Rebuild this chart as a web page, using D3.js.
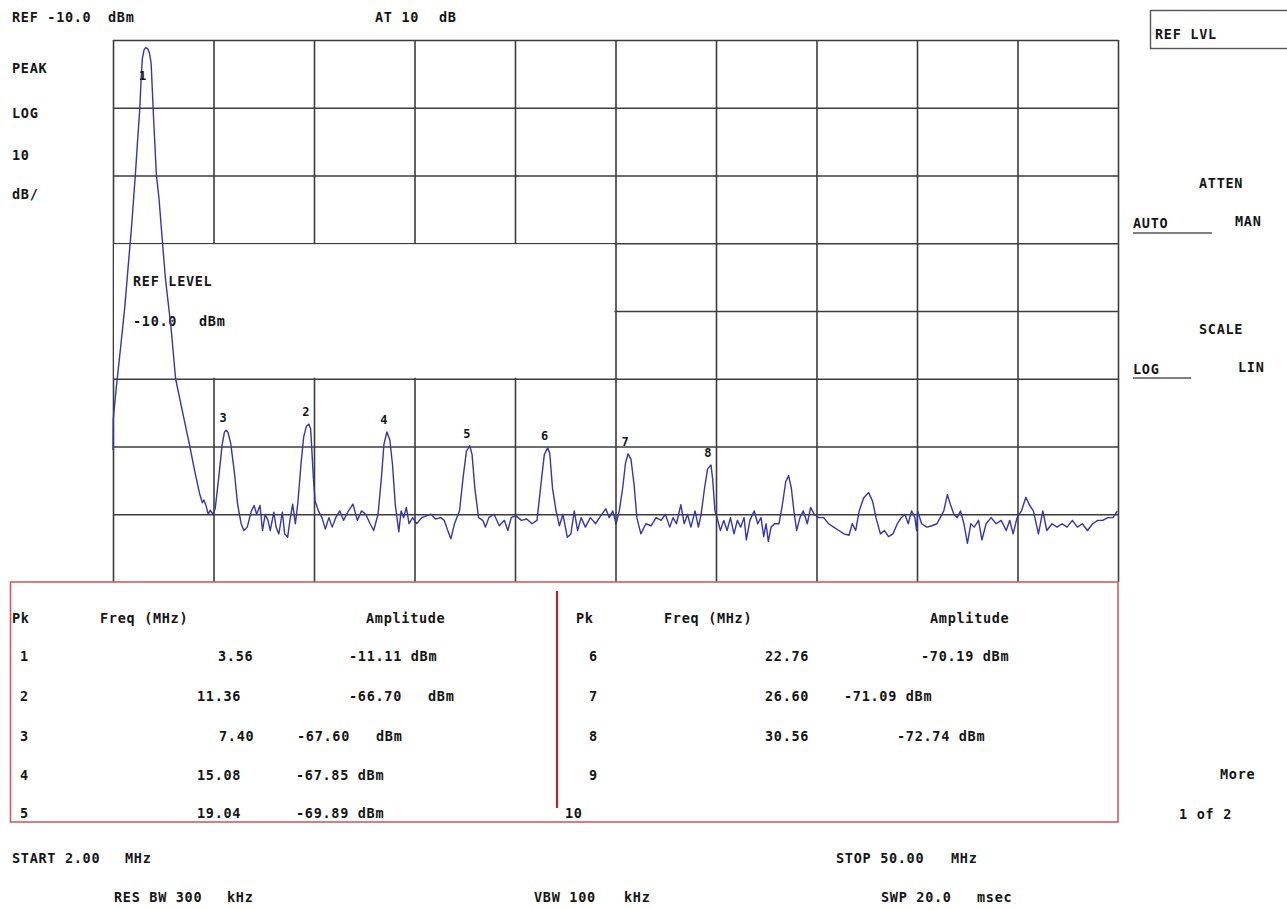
<!DOCTYPE html>
<html>
<head>
<meta charset="utf-8">
<script src="https://cdn.jsdelivr.net/npm/d3@7"></script>
<style>
  html, body { margin: 0; padding: 0; background: #ffffff; }
  svg { display: block; }
  text { font-family: 'DejaVu Sans Mono', 'Liberation Mono', monospace; font-weight: bold; font-size: 13.5px; fill: #151515; letter-spacing: 0.7px; }
</style>
</head>
<body>
<svg id="chart" width="1287" height="910"></svg>
<script>
// ---------------- DATA ----------------
const startFreq = 2.0;      // MHz
const stopFreq = 50.0;      // MHz
const refLevel = -10;       // dBm (top of screen)
const bottomLevel = -90;    // dBm (bottom of screen)

const freqGrid = [2, 6.8, 11.6, 16.4, 21.2, 26, 30.8, 35.6, 40.4, 45.2, 50];
const levelGrid = [-10, -20, -30, -40, -50, -60, -70, -80, -90];

// Trace read from the display: [frequency MHz, amplitude dBm]
const trace = [
  [2.00,-70.5],[2.01,-66.0],[2.08,-63.8],[2.16,-61.2],[2.36,-55.5],[2.56,-49.5],[2.72,-43.6],[2.88,-37.8],
  [3.07,-29.8],[3.18,-24.6],[3.28,-20.1],[3.34,-16.0],[3.40,-12.8],[3.48,-11.5],[3.56,-11.11],[3.66,-11.3],
  [3.74,-11.9],[3.82,-13.4],[3.88,-17.5],[3.93,-21.0],[4.07,-29.8],[4.20,-33.5],[4.31,-37.8],[4.50,-45.1],
  [4.77,-52.4],[4.99,-60.0],[5.32,-64.9],[5.65,-69.7],[5.90,-73.6],[6.14,-77.0],[6.27,-78.3],[6.34,-77.9],
  [6.44,-78.7],[6.55,-80.0],[6.64,-79.4],[6.77,-80.0],[6.88,-79.2],
  [7.05,-74.6],[7.21,-69.8],[7.32,-67.9],[7.40,-67.6],[7.49,-67.9],[7.62,-69.5],[7.79,-73.6],[7.95,-78.5],
  [8.12,-81.4],[8.25,-82.4],[8.41,-81.9],[8.61,-79.5],[8.74,-78.7],[8.86,-80.0],[9.02,-78.7],[9.14,-82.4],
  [9.27,-80.0],[9.40,-80.9],[9.51,-82.4],[9.68,-79.7],[9.79,-81.9],[9.92,-82.9],[10.09,-79.7],[10.20,-82.9],
  [10.34,-83.4],[10.45,-80.9],[10.58,-78.5],[10.71,-81.4],[10.83,-78.3],
  [10.99,-72.2],[11.11,-68.5],[11.24,-67.0],[11.36,-66.7],[11.44,-67.4],[11.50,-70.7],[11.57,-74.6],[11.65,-78.0],
  [11.81,-79.5],[11.98,-80.5],[12.14,-82.2],[12.31,-80.5],[12.47,-81.9],[12.64,-80.5],[12.83,-79.5],[13.01,-80.9],
  [13.21,-79.7],[13.46,-78.5],[13.67,-80.9],[13.87,-79.5],[14.07,-80.0],[14.28,-81.4],[14.45,-82.4],[14.66,-80.0],
  [14.82,-74.6],[14.94,-69.7],[15.08,-67.85],[15.22,-69.0],[15.35,-72.7],[15.48,-78.5],[15.65,-82.6],[15.76,-79.5],
  [15.88,-80.5],[16.01,-79.0],[16.14,-81.4],[16.31,-80.5],[16.50,-81.4],[16.75,-80.5],[17.00,-80.2],[17.19,-80.0],
  [17.40,-80.7],[17.65,-80.5],[17.82,-80.9],[18.01,-82.6],[18.14,-83.6],[18.31,-81.4],[18.55,-79.5],
  [18.72,-74.6],[18.88,-70.7],[19.04,-69.89],[19.15,-71.2],[19.28,-76.1],[19.46,-80.5],[19.66,-80.9],[19.79,-81.9],
  [19.95,-80.5],[20.20,-80.0],[20.45,-81.7],[20.69,-80.9],[20.86,-82.4],[21.02,-80.5],[21.23,-80.2],[21.51,-80.9],
  [21.76,-80.7],[22.01,-81.4],[22.25,-80.9],
  [22.42,-76.1],[22.60,-71.2],[22.76,-70.19],[22.86,-71.0],[22.99,-76.1],[23.16,-79.5],[23.32,-81.7],[23.49,-80.0],
  [23.70,-83.4],[23.87,-82.9],[24.03,-79.5],[24.19,-82.4],[24.36,-80.5],[24.56,-81.9],[24.80,-80.5],[25.05,-81.4],
  [25.30,-80.2],[25.54,-79.2],[25.70,-80.5],[25.87,-79.5],[26.03,-81.4],[26.18,-79.5],
  [26.34,-76.2],[26.48,-72.4],[26.60,-71.09],[26.74,-71.9],[26.89,-75.7],[27.02,-80.5],[27.21,-82.9],[27.45,-81.4],
  [27.70,-81.7],[27.94,-80.5],[28.18,-80.9],[28.38,-80.0],[28.59,-81.9],[28.75,-80.5],[28.91,-81.4],[29.12,-78.6],
  [29.28,-81.4],[29.44,-80.0],[29.60,-81.9],[29.80,-79.5],[29.96,-81.9],[30.09,-80.0],
  [30.25,-76.2],[30.40,-73.3],[30.56,-72.74],[30.64,-74.8],[30.75,-79.5],[30.85,-80.5],[31.01,-82.4],[31.17,-80.9],
  [31.33,-82.4],[31.49,-80.5],[31.66,-82.9],[31.82,-80.9],[31.98,-81.9],[32.14,-80.5],[32.25,-83.8],[32.42,-80.9],
  [32.63,-79.5],[32.79,-81.4],[32.95,-80.5],[33.08,-83.3],[33.19,-81.4],[33.30,-84.0],[33.43,-81.9],[33.60,-81.4],
  [33.81,-81.4],[33.97,-78.6],[34.13,-75.2],[34.27,-74.3],[34.40,-76.2],[34.52,-79.5],[34.65,-82.4],[34.81,-80.5],
  [34.97,-79.5],[35.16,-81.4],[35.32,-79.0],[35.49,-80.0],[35.70,-80.5],[35.94,-80.5],[36.18,-81.4],[36.42,-81.9],
  [36.67,-82.4],[36.91,-82.9],[37.15,-83.1],[37.31,-81.4],[37.47,-82.4],[37.64,-79.5],[37.85,-77.6],[38.09,-76.8],
  [38.28,-78.1],[38.44,-80.5],[38.65,-82.9],[38.85,-82.4],[39.04,-83.3],[39.25,-82.9],[39.46,-81.4],[39.65,-80.5],
  [39.82,-80.0],[39.98,-81.4],[40.14,-79.5],[40.30,-80.5],[40.38,-82.4],[40.43,-79.5],[40.62,-81.4],[40.87,-81.9],
  [41.11,-81.7],[41.35,-81.4],[41.51,-80.5],[41.68,-79.5],[41.85,-77.1],[42.00,-78.6],[42.16,-80.0],[42.32,-80.5],
  [42.48,-79.5],[42.64,-81.4],[42.81,-84.3],[42.97,-81.4],[43.13,-81.9],[43.34,-80.9],[43.50,-83.8],[43.70,-81.4],
  [43.94,-80.5],[44.18,-81.4],[44.42,-80.9],[44.66,-82.4],[44.83,-80.9],[44.99,-82.9],[45.18,-80.5],[45.39,-79.5],
  [45.60,-77.5],[45.76,-78.6],[45.96,-79.5],[46.20,-82.9],[46.41,-79.5],[46.60,-82.4],[46.85,-81.4],[47.09,-81.9],
  [47.33,-81.4],[47.57,-81.9],[47.82,-80.9],[48.06,-81.9],[48.30,-81.4],[48.54,-82.4],[48.79,-81.4],[49.03,-80.9],
  [49.27,-80.9],[49.51,-80.5],[49.76,-80.5],[49.97,-79.5]
];

// Peak markers
const markerPk   = [1, 2, 3, 4, 5, 6, 7, 8];
const markerFreq = [3.56, 11.36, 7.40, 15.08, 19.04, 22.76, 26.60, 30.56];
const markerAmp  = [-11.11, -66.70, -67.60, -67.85, -69.89, -70.19, -71.09, -72.74];
const markerFreqText = ["3.56", "11.36", "7.40", "15.08", "19.04", "22.76", "26.60", "30.56"];
const markerAmpText  = ["-11.11 dBm", "-66.70", "-67.60", "-67.85 dBm", "-69.89 dBm", "-70.19 dBm", "-71.09 dBm", "-72.74 dBm"];
const markerUnitText = ["", "dBm", "dBm", "", "", "", "", ""];

// ---------------- LAYOUT ----------------
const svg = d3.select("#chart");
const P = { left: 113, right: 1118, top: 40, bottom: 582 };
const x = d3.scaleLinear().domain([startFreq, stopFreq]).range([P.left, P.right]);
const y = d3.scaleLinear().domain([bottomLevel, refLevel]).range([P.bottom, P.top]);

const GRID = "#3c3c3c";

// Grid via axes (tick lines only)
const gx = svg.append("g").attr("transform", `translate(0,${P.bottom})`)
  .call(d3.axisBottom(x).tickValues(freqGrid).tickSize(-(P.bottom - P.top)).tickFormat(""));
const gy = svg.append("g").attr("transform", `translate(${P.left},0)`)
  .call(d3.axisLeft(y).tickValues(levelGrid.filter(v => v !== bottomLevel)).tickSize(-(P.right - P.left)).tickFormat(""));
[gx, gy].forEach(g => {
  g.select(".domain").remove();
  g.selectAll(".tick line").attr("stroke", GRID).attr("stroke-width", 1.6);
});

// REF LEVEL entry window (blanks the grid)
svg.append("rect")
  .attr("x", x(startFreq) + 1).attr("y", y(-40) + 1)
  .attr("width", x(26) - x(startFreq) - 2).attr("height", y(-60) - y(-40) - 2)
  .attr("fill", "#ffffff");
svg.append("text").attr("x", 133).attr("y", 281).attr("dominant-baseline", "central").text("REF LEVEL");
svg.append("text").attr("x", 133).attr("y", 321).attr("dominant-baseline", "central").text("-10.0");
svg.append("text").attr("x", 199).attr("y", 321).attr("dominant-baseline", "central").text("dBm");

// Trace
const line = d3.line().x(d => x(d[0])).y(d => y(d[1]));
svg.append("path").datum(trace)
  .attr("d", line).attr("fill", "none")
  .attr("stroke", "#3535ad").attr("stroke-width", 1.4).attr("stroke-linejoin", "round");

// Marker labels
markerPk.forEach((pk, i) => {
  const dy = pk === 1 ? 28 : -12;
  svg.append("text")
    .attr("x", x(markerFreq[i]) - 3).attr("y", y(markerAmp[i]) + dy)
    .attr("text-anchor", "middle").attr("dominant-baseline", "central")
    .style("font-size", "12px").style("letter-spacing", "0px")
    .text(pk);
});

// ---------------- ANNOTATIONS ----------------
function txt(xp, yp, s) {
  return svg.append("text").attr("x", xp).attr("y", yp).attr("dominant-baseline", "central").text(s);
}
txt(12, 17, "REF -10.0"); txt(108, 17, "dBm");
txt(375, 17, "AT 10"); txt(439, 17, "dB");
txt(12, 68, "PEAK"); txt(12, 113, "LOG"); txt(12, 155, "10"); txt(12, 194, "dB/");

// Right softkey panel
svg.append("rect").attr("x", 1150.5).attr("y", 10.5).attr("width", 145).attr("height", 38)
  .attr("fill", "none").attr("stroke", "#555").attr("stroke-width", 1.4);
txt(1155, 34, "REF LVL");
txt(1199, 183, "ATTEN");
txt(1133, 223, "AUTO"); txt(1235, 221, "MAN");
svg.append("line").attr("x1", 1133).attr("x2", 1212).attr("y1", 233).attr("y2", 233).attr("stroke", "#555").attr("stroke-width", 1.4);
txt(1199, 329, "SCALE");
txt(1133, 369, "LOG"); txt(1238, 367, "LIN");
svg.append("line").attr("x1", 1133).attr("x2", 1191).attr("y1", 378).attr("y2", 378).attr("stroke", "#555").attr("stroke-width", 1.4);
txt(1220, 774, "More");
txt(1179, 814, "1 of 2");

// Bottom settings
txt(12, 858, "START 2.00"); txt(125, 858, "MHz");
txt(836, 858, "STOP 50.00"); txt(951, 858, "MHz");
txt(114, 897, "RES BW 300"); txt(227, 897, "kHz");
txt(534, 897, "VBW 100"); txt(624, 897, "kHz");
txt(881, 897, "SWP 20.0"); txt(977, 897, "msec");

// ---------------- MARKER TABLE ----------------
svg.append("rect").attr("x", 10.5).attr("y", P.bottom).attr("width", P.right - 10.5).attr("height", 240)
  .attr("fill", "none").attr("stroke", "#d65a5a").attr("stroke-width", 1.6);
svg.append("line").attr("x1", 557).attr("x2", 557).attr("y1", 591).attr("y2", 808)
  .attr("stroke", "#b52424").attr("stroke-width", 2.2);

const headY = 618;
const rowY = [656, 696, 736, 775, 813];
txt(12, headY, "Pk"); txt(100, headY, "Freq (MHz)"); txt(366, headY, "Amplitude");
txt(576, headY, "Pk"); txt(664, headY, "Freq (MHz)"); txt(930, headY, "Amplitude");

const pkX = [20, 20, 20, 20, 20, 589, 589, 589];
const freqX = [218, 197, 219, 197, 197, 765, 765, 765];
const ampX = [349, 349, 297, 296, 296, 921, 844, 897];
const unitX = [0, 428, 376, 0, 0, 0, 0, 0];
markerPk.forEach((pk, i) => {
  const ry = rowY[i % 5];
  txt(pkX[i], ry, String(pk));
  txt(freqX[i], ry, markerFreqText[i]);
  txt(ampX[i], ry, markerAmpText[i]);
  if (markerUnitText[i]) txt(unitX[i], ry, markerUnitText[i]);
});
txt(589, rowY[3], "9");
txt(565, rowY[4], "10");
</script>
</body>
</html>
